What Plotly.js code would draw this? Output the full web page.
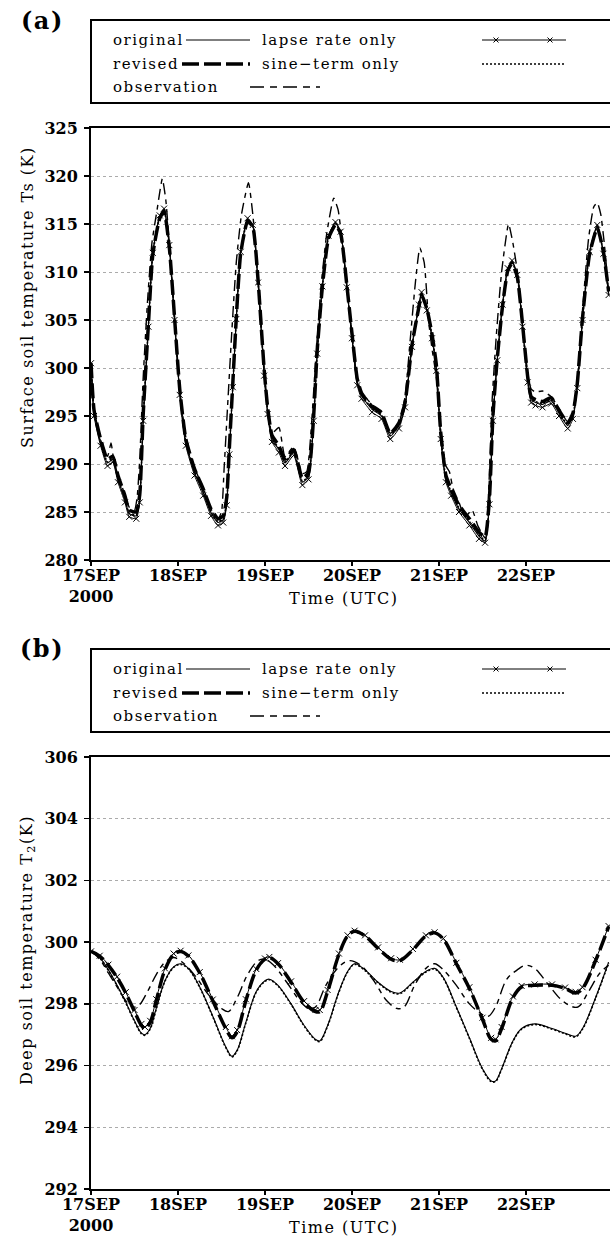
<!DOCTYPE html>
<html><head><meta charset="utf-8">
<script src="https://cdn.plot.ly/plotly-3.0.1.min.js"></script>
<style>
html,body{margin:0;padding:0;background:#fff;overflow:hidden;}
#chart{width:610px;height:1236px;}
.annotation-text{letter-spacing:1.5px;}
</style></head><body><div id="chart"></div>
<script>
// ---------- tick labels ----------
const tickDays = [0, 1, 2, 3, 4, 5];
const tickText = ['17SEP<br>2000', '18SEP', '19SEP', '20SEP', '21SEP', '22SEP'];

// ---------- panel (a): surface soil temperature Ts (K), time in days since 17 SEP 00 UTC ----------
const timeA = [0, 0.035, 0.11, 0.19, 0.25, 0.31, 0.39, 0.44, 0.52, 0.56, 0.60, 0.66, 0.71, 0.79, 0.84, 0.90, 0.96, 1.02, 1.09, 1.19, 1.29, 1.38, 1.46, 1.52, 1.56, 1.59, 1.63, 1.67, 1.72, 1.80, 1.86, 1.92, 1.99, 2.03, 2.08, 2.16, 2.23, 2.33, 2.43, 2.50, 2.56, 2.60, 2.66, 2.73, 2.81, 2.87, 2.94, 3.00, 3.06, 3.11, 3.23, 3.34, 3.44, 3.54, 3.61, 3.69, 3.77, 3.80, 3.86, 3.92, 3.97, 4.02, 4.08, 4.14, 4.23, 4.35, 4.46, 4.53, 4.58, 4.62, 4.67, 4.73, 4.79, 4.84, 4.90, 4.96, 5.02, 5.06, 5.11, 5.19, 5.29, 5.38, 5.48, 5.54, 5.59, 5.65, 5.73, 5.82, 5.89, 5.95];
const originalA = [300.5, 295.3, 292.2, 290.1, 290.5, 288.4, 286.3, 284.8, 284.6, 286.3, 294.7, 304.4, 312.0, 315.8, 316.5, 312.7, 305.1, 297.4, 292.2, 289.1, 287.0, 284.9, 283.9, 284.2, 286.0, 291.2, 298.1, 305.1, 312.0, 315.5, 314.8, 309.0, 299.5, 295.5, 292.6, 291.5, 290.1, 291.2, 288.1, 288.7, 294.7, 301.6, 308.5, 313.7, 315.1, 314.1, 308.5, 303.3, 298.5, 297.1, 295.7, 295.0, 292.9, 294.0, 296.1, 302.3, 306.5, 307.8, 306.1, 303.3, 300.0, 292.9, 288.4, 287.0, 285.3, 283.9, 282.5, 282.0, 286.0, 294.7, 300.9, 306.5, 310.3, 311.1, 309.6, 304.4, 298.8, 296.7, 296.4, 296.2, 296.6, 295.3, 294.0, 295.0, 298.1, 305.1, 312.0, 314.8, 312.0, 307.8];
const revisedA = [300.5, 295.6, 292.6, 290.5, 290.8, 288.8, 286.7, 285.2, 285.0, 286.8, 295.2, 304.6, 311.8, 315.6, 316.3, 312.6, 305.3, 297.8, 292.6, 289.5, 287.4, 285.3, 284.3, 284.6, 286.5, 291.6, 298.4, 305.2, 311.9, 315.3, 314.7, 309.2, 299.9, 295.9, 293.0, 291.9, 290.5, 291.5, 288.5, 289.1, 295.1, 301.8, 308.5, 313.5, 314.9, 314.0, 308.7, 303.6, 298.9, 297.4, 296.0, 295.3, 293.2, 294.3, 296.4, 302.4, 306.4, 307.6, 306.2, 303.5, 300.3, 293.3, 288.8, 287.4, 285.7, 284.3, 282.9, 282.4, 286.4, 295.0, 301.0, 306.4, 310.1, 310.9, 309.5, 304.6, 299.1, 297.0, 296.7, 296.5, 296.9, 295.6, 294.3, 295.3, 298.4, 305.2, 311.8, 314.6, 312.1, 308.0];
const lapseA = [300.5, 295.0, 291.9, 289.8, 290.2, 288.1, 286.0, 284.5, 284.3, 286.0, 294.5, 304.3, 312.0, 315.9, 316.6, 312.8, 305.0, 297.2, 291.9, 288.8, 286.7, 284.6, 283.6, 283.9, 285.7, 291.0, 298.0, 305.1, 312.1, 315.6, 314.9, 308.9, 299.2, 295.2, 292.3, 291.2, 289.8, 290.9, 287.8, 288.4, 294.5, 301.5, 308.5, 313.8, 315.2, 314.2, 308.4, 303.1, 298.2, 296.8, 295.4, 294.7, 292.6, 293.7, 295.9, 302.2, 306.6, 307.9, 306.0, 303.1, 299.7, 292.6, 288.1, 286.7, 285.0, 283.6, 282.2, 281.8, 285.8, 294.5, 300.8, 306.6, 310.4, 311.2, 309.7, 304.3, 298.5, 296.4, 296.1, 295.9, 296.3, 295.0, 293.7, 294.7, 297.9, 305.0, 312.1, 314.9, 311.9, 307.6];
const sineA = [300.5, 295.4, 292.3, 290.2, 290.6, 288.5, 286.4, 284.9, 284.7, 286.4, 294.8, 304.4, 311.9, 315.7, 316.4, 312.6, 305.1, 297.5, 292.3, 289.2, 287.1, 285.0, 284.0, 284.3, 286.1, 291.3, 298.1, 305.0, 311.9, 315.4, 314.7, 309.0, 299.6, 295.6, 292.7, 291.6, 290.2, 291.3, 288.2, 288.8, 294.8, 301.6, 308.4, 313.6, 315.0, 314.0, 308.5, 303.4, 298.6, 297.2, 295.8, 295.1, 293.0, 294.1, 296.2, 302.3, 306.4, 307.7, 306.1, 303.4, 300.1, 293.0, 288.5, 287.1, 285.4, 284.0, 282.6, 282.1, 286.1, 294.8, 300.9, 306.4, 310.2, 311.0, 309.6, 304.5, 298.9, 296.8, 296.5, 296.3, 296.7, 295.4, 294.1, 295.1, 298.2, 305.0, 311.9, 314.7, 312.0, 307.9];
const timeAobs = [0, 0.035, 0.11, 0.19, 0.23, 0.26, 0.31, 0.39, 0.44, 0.50, 0.53, 0.56, 0.60, 0.65, 0.70, 0.76, 0.82, 0.86, 0.90, 0.96, 1.02, 1.09, 1.19, 1.29, 1.38, 1.46, 1.50, 1.53, 1.57, 1.62, 1.67, 1.73, 1.81, 1.86, 1.92, 1.99, 2.03, 2.08, 2.16, 2.23, 2.33, 2.43, 2.48, 2.53, 2.58, 2.64, 2.71, 2.79, 2.84, 2.89, 2.94, 3.00, 3.06, 3.11, 3.23, 3.34, 3.44, 3.54, 3.61, 3.67, 3.73, 3.78, 3.83, 3.88, 3.92, 3.97, 4.02, 4.08, 4.12, 4.16, 4.23, 4.30, 4.38, 4.45, 4.53, 4.57, 4.61, 4.66, 4.72, 4.80, 4.85, 4.91, 4.96, 5.02, 5.06, 5.11, 5.19, 5.29, 5.38, 5.48, 5.54, 5.59, 5.65, 5.72, 5.78, 5.82, 5.86, 5.90, 5.95];
const obsA = [300.5, 295.8, 292.5, 290.8, 292.2, 290.5, 288.8, 286.8, 285.5, 285.2, 286.5, 290.5, 299.0, 307.0, 313.0, 316.5, 319.7, 317.5, 313.0, 305.5, 297.8, 292.8, 289.6, 287.5, 285.3, 284.3, 285.0, 289.5, 296.0, 304.0, 311.0, 316.0, 319.3, 316.0, 309.5, 300.0, 296.0, 293.2, 293.8, 290.8, 291.8, 289.0, 289.2, 293.5, 300.5, 308.0, 314.0, 317.7, 316.5, 313.0, 308.8, 303.5, 298.8, 297.5, 296.2, 295.5, 293.2, 294.3, 297.0, 303.0, 309.0, 312.5, 311.0, 305.0, 302.0, 299.0, 293.5, 289.8, 289.2, 287.5, 286.0, 284.5, 285.2, 283.5, 282.3, 287.0, 296.5, 303.5, 310.0, 315.0, 313.0, 309.5, 304.5, 299.5, 297.8, 297.5, 297.6, 297.0, 295.8, 294.4, 295.4, 298.8, 306.0, 313.5, 316.8, 317.2, 316.0, 313.0, 308.0];

// ---------- panel (b): deep soil temperature T2 (K) ----------
const timeB = [0, 0.10, 0.20, 0.30, 0.40, 0.50, 0.58, 0.62, 0.68, 0.75, 0.85, 0.95, 1.03, 1.12, 1.25, 1.40, 1.55, 1.62, 1.68, 1.78, 1.90, 2.00, 2.05, 2.15, 2.30, 2.45, 2.58, 2.63, 2.72, 2.85, 2.95, 3.03, 3.15, 3.30, 3.45, 3.55, 3.70, 3.85, 3.95, 4.05, 4.20, 4.35, 4.50, 4.60, 4.65, 4.72, 4.85, 4.95, 5.10, 5.30, 5.45, 5.57, 5.65, 5.80, 5.95];
const revisedB = [299.70, 299.55, 299.25, 298.85, 298.35, 297.75, 297.30, 297.20, 297.40, 298.10, 299.10, 299.60, 299.70, 299.55, 299.00, 298.10, 297.20, 296.90, 297.10, 298.10, 299.10, 299.45, 299.50, 299.30, 298.70, 298.05, 297.75, 297.75, 298.40, 299.60, 300.20, 300.35, 300.20, 299.80, 299.45, 299.40, 299.75, 300.20, 300.30, 300.10, 299.30, 298.50, 297.50, 296.85, 296.80, 297.20, 298.20, 298.55, 298.60, 298.60, 298.50, 298.35, 298.50, 299.40, 300.50];
const lapseB = [299.70, 299.56, 299.27, 298.88, 298.38, 297.80, 297.35, 297.25, 297.45, 298.15, 299.15, 299.63, 299.72, 299.57, 299.03, 298.14, 297.25, 296.95, 297.15, 298.15, 299.13, 299.47, 299.52, 299.32, 298.73, 298.09, 297.80, 297.80, 298.45, 299.63, 300.22, 300.37, 300.22, 299.83, 299.48, 299.43, 299.78, 300.22, 300.32, 300.12, 299.33, 298.54, 297.55, 296.90, 296.85, 297.25, 298.24, 298.58, 298.63, 298.63, 298.53, 298.39, 298.54, 299.43, 300.52];
const originalB = [299.70, 299.50, 299.10, 298.60, 298.05, 297.45, 297.05, 297.00, 297.20, 297.85, 298.75, 299.20, 299.30, 299.15, 298.55, 297.60, 296.60, 296.30, 296.50, 297.40, 298.40, 298.75, 298.80, 298.60, 298.00, 297.30, 296.85, 296.80, 297.30, 298.40, 299.05, 299.30, 299.10, 298.70, 298.40, 298.35, 298.70, 299.05, 299.15, 298.85, 297.90, 296.90, 295.90, 295.50, 295.50, 295.90, 296.80, 297.20, 297.35, 297.20, 297.05, 296.95, 297.20, 298.20, 299.35];
const sineB = [299.70, 299.49, 299.08, 298.58, 298.03, 297.43, 297.03, 296.98, 297.18, 297.83, 298.73, 299.18, 299.28, 299.13, 298.53, 297.58, 296.58, 296.28, 296.48, 297.38, 298.38, 298.73, 298.78, 298.58, 297.98, 297.28, 296.83, 296.78, 297.28, 298.38, 299.03, 299.28, 299.08, 298.68, 298.38, 298.33, 298.68, 299.03, 299.13, 298.83, 297.88, 296.88, 295.88, 295.48, 295.48, 295.88, 296.78, 297.18, 297.33, 297.18, 297.03, 296.93, 297.18, 298.18, 299.33];
const timeBobs = [0, 0.10, 0.20, 0.30, 0.40, 0.48, 0.55, 0.65, 0.75, 0.85, 0.95, 1.05, 1.20, 1.35, 1.50, 1.58, 1.68, 1.80, 1.92, 2.00, 2.10, 2.25, 2.40, 2.50, 2.58, 2.70, 2.85, 2.97, 3.10, 3.25, 3.40, 3.52, 3.60, 3.72, 3.85, 3.95, 4.05, 4.20, 4.35, 4.50, 4.57, 4.65, 4.78, 4.90, 5.00, 5.10, 5.25, 5.40, 5.52, 5.60, 5.72, 5.85, 5.95];
const obsB = [299.70, 299.45, 299.00, 298.55, 298.10, 297.90, 297.95, 298.40, 298.95, 299.35, 299.50, 299.35, 298.90, 298.30, 297.85, 297.75, 298.20, 298.95, 299.40, 299.45, 299.25, 298.70, 298.10, 297.85, 297.90, 298.60, 299.20, 299.40, 299.25, 298.75, 298.10, 297.85, 297.90, 298.60, 299.15, 299.30, 299.10, 298.60, 298.00, 297.65, 297.60, 297.90, 298.80, 299.10, 299.25, 299.15, 298.65, 298.15, 297.92, 297.90, 298.40, 299.00, 299.25];

// ---------- texts ----------
const legendNames = ['original', 'lapse rate only', 'revised', 'sine\u2212term only', 'observation'];
const panelLabels = ['(a)', '(b)'];
const yTitles = ['Surface soil temperature Ts (K)', 'Deep soil temperature T<sub>2</sub>(K)'];
const xTitle = 'Time (UTC)';

// ---------- helpers ----------
const W = 610, H = 1236;
const px = v => v / W;
const py = v => 1 - v / H;
const SERIF = 'DejaVu Serif, serif';

const styles = {
  original: {line: {color: '#000', width: 1.1}},
  revised: {line: {color: '#000', width: 3.5, dash: '15px,5px'}},
  lapse: {line: {color: '#000', width: 1}, marker: {symbol: 'x-thin', size: 6, color: '#000', line: {width: 1, color: '#000'}}},
  sine: {line: {color: '#000', width: 1.6, dash: '2px,2px'}},
  obs: {line: {color: '#000', width: 1.4, dash: '11px,5px,5px,5px'}}
};

function tr(x, y, st, xa, ya, shape, smooth) {
  const t = {x: x, y: y, type: 'scatter', mode: st.marker ? 'lines+markers' : 'lines',
    xaxis: xa, yaxis: ya, line: Object.assign({shape: shape, smoothing: smooth}, st.line),
    hoverinfo: 'skip', showlegend: false};
  if (st.marker) t.marker = st.marker;
  return t;
}

const data = [
  tr(timeAobs, obsA, styles.obs, 'x', 'y', 'spline', 0.5),
  tr(timeA, originalA, styles.original, 'x', 'y', 'spline', 0.5),
  tr(timeA, sineA, styles.sine, 'x', 'y', 'spline', 0.5),
  tr(timeA, lapseA, styles.lapse, 'x', 'y', 'spline', 0.5),
  tr(timeA, revisedA, styles.revised, 'x', 'y', 'spline', 0.5),
  tr(timeBobs, obsB, styles.obs, 'x2', 'y2', 'spline', 1),
  tr(timeB, originalB, styles.original, 'x2', 'y2', 'spline', 1),
  tr(timeB, sineB, styles.sine, 'x2', 'y2', 'spline', 1),
  tr(timeB, lapseB, styles.lapse, 'x2', 'y2', 'spline', 1),
  tr(timeB, revisedB, styles.revised, 'x2', 'y2', 'spline', 1)
];

const tickFont = {family: SERIF, size: 16, weight: 'bold', color: '#000'};
function xAxis(anchor) {
  return {domain: [px(91), 1], range: [0, 5.966], anchor: anchor,
    tickmode: 'array', tickvals: tickDays, ticktext: tickText,
    ticks: 'outside', ticklen: 4, tickwidth: 1.5, tickcolor: '#000', ticklabelstandoff: -4,
    showline: true, linewidth: 2, linecolor: '#000', mirror: true,
    showgrid: false, zeroline: false, tickfont: tickFont, fixedrange: true};
}
function yAxis(anchor, top, bottom, range, dtick) {
  return {domain: [py(bottom), py(top)], range: range, dtick: dtick, anchor: anchor,
    ticks: 'outside', ticklen: 5, tickwidth: 1.5, tickcolor: '#000', ticklabelstandoff: 3,
    showline: true, linewidth: 2, linecolor: '#000', mirror: false,
    showgrid: true, gridcolor: '#ababab', gridwidth: 1, griddash: 'dot',
    zeroline: false, tickfont: tickFont, fixedrange: true};
}

const shapes = [];
const annotations = [];
[0, 629].forEach((dy, i) => {
  // legend box
  shapes.push({type: 'rect', xref: 'paper', yref: 'paper', x0: px(91), x1: px(640), y0: py(20 + dy), y1: py(103 + dy),
    line: {color: '#000', width: 2}, fillcolor: 'rgba(0,0,0,0)'});
  const L = (x0, x1, y0, y1, line) => shapes.push({type: 'line', xref: 'paper', yref: 'paper', x0: px(x0), x1: px(x1), y0: py(y0), y1: py(y1), line: line});
  const r1 = 40 + dy, r2 = 64 + dy, r3 = 87 + dy;
  L(186, 250, r1, r1, {color: '#000', width: 1.1});
  L(482, 566, r1, r1, {color: '#000', width: 1});
  [496, 550].forEach(cx => {
    L(cx - 2.5, cx + 2.5, r1 - 2.5, r1 + 2.5, {color: '#000', width: 1});
    L(cx - 2.5, cx + 2.5, r1 + 2.5, r1 - 2.5, {color: '#000', width: 1});
  });
  L(182, 250, r2, r2, {color: '#000', width: 3.5, dash: '17px,5px'});
  L(482, 566, r2, r2, {color: '#000', width: 1.6, dash: '2px,2px'});
  L(250, 320, r3, r3, {color: '#000', width: 1.5, dash: '14px,6px,7px,6px'});

  const A = (text, x, y, opts) => annotations.push(Object.assign({text: text, xref: 'paper', yref: 'paper', x: px(x), y: py(y),
    showarrow: false, xanchor: 'left', yanchor: 'middle', font: {family: SERIF, size: 15, color: '#000'}}, opts || {}));
  A(panelLabels[i], 42, 20 + dy, {xanchor: 'center', font: {family: SERIF, size: 24, weight: 'bold', color: '#000'}});
  A(legendNames[0], 111, r1);
  A(legendNames[1], 260, r1);
  A(legendNames[2], 111, r2);
  A(legendNames[3], 260, r2);
  A(legendNames[4], 111, r3);
  A(xTitle, 343, 598 + dy, {xanchor: 'center', font: {family: SERIF, size: 16, color: '#000'}});
  A(yTitles[i], 27, i === 0 ? 297 : 950, {xanchor: 'center', textangle: -90, font: {family: SERIF, size: 16, color: '#000'}});
});

const layout = {
  width: W, height: H, margin: {l: 0, r: 0, t: 0, b: 0},
  paper_bgcolor: '#fff', plot_bgcolor: '#fff', showlegend: false,
  font: {family: SERIF, color: '#000'},
  xaxis: xAxis('y'), yaxis: yAxis('x', 128, 560, [280, 325], 5),
  xaxis2: xAxis('y2'), yaxis2: yAxis('x2', 757, 1189, [292, 306], 2),
  shapes: shapes, annotations: annotations
};

Plotly.newPlot('chart', data, layout, {staticPlot: true, displayModeBar: false});
</script></body></html>
